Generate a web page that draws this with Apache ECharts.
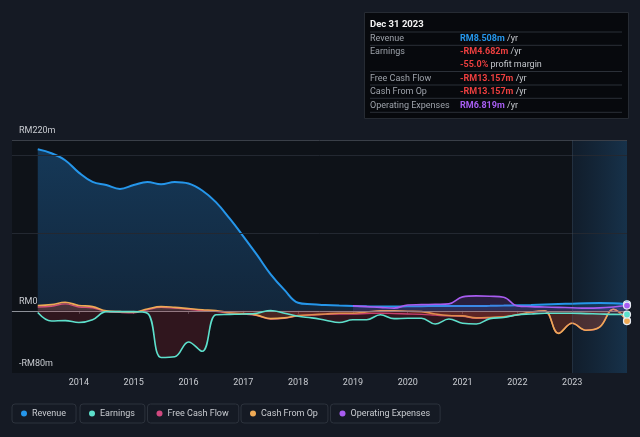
<!DOCTYPE html>
<html><head><meta charset="utf-8">
<script src="https://cdn.jsdelivr.net/npm/echarts@6/dist/echarts.min.js"></script>
<style>html,body{margin:0;padding:0;background:#151a24;}#c{width:640px;height:437px;}</style>
</head><body><div id="c"></div>
<script>
// ---- data (RM millions, quarter-end dates as decimal years) ----
const quarters = [2013.25,2013.5,2013.75,2014,2014.25,2014.5,2014.75,2015,2015.25,2015.5,2015.75,2016,2016.25,2016.5,2016.75,2017,2017.25,2017.5,2017.75,2018,2018.25,2018.5,2018.75,2019,2019.25,2019.5,2019.75,2020,2020.25,2020.5,2020.75,2021,2021.25,2021.5,2021.75,2022,2022.25,2022.5,2022.75,2023,2023.25,2023.5,2023.75,2024];
const revenue = [208,203,194,178,166,162,157,162,166,163,166,164,155,140,119,96,72,47,27,10.5,8.5,7.5,6.8,6.3,5.8,5.5,5.5,5.8,6.0,6.2,6.3,6.3,6.3,6.5,6.8,7.2,7.6,8.2,8.8,9.3,9.8,10.0,9.8,8.508];
const earnings = [-2,-13,-12.5,-15,-11.5,-1,-1,-1,-3,-60,-59,-40,-52,-5,-4.5,-4,-3,0.5,-3,-7,-9,-12,-15,-11.5,-11.5,-5,-10,-9.5,-9.5,-17,-10.5,-16,-17,-10,-8.5,-5,-4,-3,-3,-3,-3.5,-4,-4.5,-4.682];
const freeCashFlow = [5,6,9,5,4,-1,-2,-2.5,1.5,4.5,3.5,2,0.5,-0.5,-3,-4,-6,-10.5,-9.5,-6.5,-5.5,-4.5,-4,-4,-3.5,-3,-3.5,-4,-4.5,-5.5,-6.5,-7,-9.5,-9,-8,-5.5,-2,-0.5,-29,-16,-25,-21,2,-13.157];
const cashFromOp = [7,8,11,7,5.5,0,-1,-1.5,2.5,5.5,4.5,3,1.5,0.5,-2.5,-3.5,-5.5,-10,-9,-6,-5,-4,-3,-3,-1.5,0,0,-0.5,-1,-4,-6,-6.5,-9,-8.5,-7.5,-5,-1.5,0,-29,-16,-25,-21,2,-13.157];
const opExpenses = [null,null,null,null,null,null,null,null,null,null,null,null,null,null,null,null,null,null,null,null,null,null,null,6.4,5.5,4.5,3.5,7.5,8,8.5,9,18,19.3,18.8,17.6,6.4,5.5,5,4.5,4,3.5,3.8,5,6.819];
const yearTicks = [2014,2015,2016,2017,2018,2019,2020,2021,2022,2023];
const yLabelValues = [-80, 0, 220];
const yLabelTexts = ['-RM80m', 'RM0', 'RM220m'];
const gridValues = [100, 200];
const highlightRange = [2023, 2024];
const seriesNames = ['Revenue','Earnings','Free Cash Flow','Cash From Op','Operating Expenses'];
const tipTitle = 'Dec 31 2023';
const tipRows = [
  ['Revenue','RM8.508m',' /yr'],
  ['Earnings','-RM4.682m',' /yr'],
  ['','-55.0%',' profit margin'],
  ['Free Cash Flow','-RM13.157m',' /yr'],
  ['Cash From Op','-RM13.157m',' /yr'],
  ['Operating Expenses','RM6.819m',' /yr']
];

// ---- styling ----
const C = {rev:'#2596ea', earn:'#5de0cc', fcf:'#d0487f', cfo:'#eea955', opx:'#a85cf0'};
const valColors = [C.rev, '#ec3f3f', '#ec3f3f', '#ec3f3f', '#ec3f3f', '#a75ef2'];
const FONT = 'Roboto, "Noto Sans", sans-serif';
const last = quarters.length - 1;
const pairs = vals => quarters.map((q,i)=>[q, vals[i]]);
const endSym = (v,p) => p.dataIndex === last ? 7 : 0;

function lineSeries(name, vals, color, area, z, width){
  return {
    name, type:'line', data: pairs(vals), smooth:0.4, z,
    symbol:'circle', showSymbol:true, symbolSize:endSym,
    itemStyle:{color, borderColor:'#e8ecf2', borderWidth:1.2},
    lineStyle:{color, width:width||1.6},
    areaStyle: area, connectNulls:false, silent:true
  };
}

const chart = echarts.init(document.getElementById('c'), null, {renderer:'canvas'});

const legends = seriesNames.map((n,i)=>({
  data:[n], left:[12,80,147.5,241,330.5][i], top:404, icon:'circle',
  itemWidth:6, itemHeight:6, padding:[5,10,5,9], borderColor:'#2c323c', borderWidth:1, borderRadius:3,
  itemStyle:{borderWidth:0},
  textStyle:{color:'#c9ccd1', fontSize:9, fontFamily:FONT}, selectedMode:false
}));

const graphicEls = [];
graphicEls.push({type:'rect', left:364, top:12, shape:{x:0,y:0,width:264,height:106}, style:{fill:'#07090d', stroke:'#262b33', lineWidth:1}, z:100});
graphicEls.push({type:'text', x:370, y:24.5, style:{text:tipTitle, fill:'#f2f2f2', font:'bold 9.5px '+FONT, textVerticalAlign:'middle'}, z:101});
const rowY = [38.3, 52, 64.5, 78.3, 91.7, 105.5];
const sepY = [32, 45.3, 71.5, 85, 98.3, 112.3];
sepY.forEach(y=>graphicEls.push({type:'line', shape:{x1:370,y1:y,x2:622,y2:y}, style:{stroke:'#2b3038', lineWidth:1}, z:101}));
tipRows.forEach((r,i)=>{
  if (r[0]) graphicEls.push({type:'text', x:370, y:rowY[i], style:{text:r[0], fill:'#9da2aa', font:'9px '+FONT, textVerticalAlign:'middle'}, z:101});
  graphicEls.push({type:'text', x:460, y:rowY[i], style:{text:'{v|'+r[1]+'}{u|'+r[2]+'}', font:'9px '+FONT, textVerticalAlign:'middle',
    rich:{v:{fill:valColors[i], font:'bold 9px '+FONT}, u:{fill:'#c4c7cc', font:'9px '+FONT}}}, z:101});
});

const revArea = {color:{type:'linear',x:0,y:0,x2:0,y2:1,colorStops:[{offset:0,color:'rgba(35,130,210,0.34)'},{offset:1,color:'rgba(35,120,200,0.2)'}]}, opacity:1};

const option = {
  animation:false,
  backgroundColor:'#151a24',
  grid:{left:12, right:13, top:140, bottom:64, show:true, backgroundColor:'#0e1218', borderWidth:0},
  legend: legends,
  graphic: graphicEls,
  xAxis:{type:'value', min:2012.78, max:2024,
    axisLine:{show:true, lineStyle:{color:'#3a3f48'}},
    axisTick:{show:true, customValues:yearTicks, length:3, lineStyle:{color:'#4a4f58'}},
    axisLabel:{customValues:yearTicks, formatter:v=>String(Math.round(v)), color:'#c9ccd1', fontSize:9, fontFamily:FONT, margin:5},
    splitLine:{show:false}},
  yAxis:{type:'value', min:-80, max:220,
    axisLine:{show:false}, axisTick:{show:false}, splitLine:{show:false},
    axisLabel:{customValues:yLabelValues, inside:true, margin:7, showMinLabel:true, showMaxLabel:true,
      formatter:v=>{const k=yLabelValues.indexOf(Math.round(v)); return k>=0?yLabelTexts[k]:'';},
      color:'#c9ccd1', fontSize:9, fontFamily:FONT, verticalAlign:'bottom', padding:[0,0,5,0]}},
  series:[
    Object.assign(lineSeries('Revenue', revenue, C.rev, revArea, 2, 2), {
      markArea:{silent:true, itemStyle:{color:{type:'linear',x:0,y:0,x2:1,y2:0,colorStops:[{offset:0,color:'rgba(22,46,72,0.4)'},{offset:1,color:'rgba(30,76,116,0.55)'}]}},
        data:[[{xAxis:highlightRange[0]},{xAxis:highlightRange[1]}]]},
      markLine:{silent:true, symbol:'none', label:{show:false},
        data:[
          {yAxis:220, lineStyle:{color:'#3a3f48', width:1, type:'solid'}},
          ...gridValues.map(v=>({yAxis:v, lineStyle:{color:'#232831', width:1, type:'solid'}})),
          {yAxis:0, lineStyle:{color:'#8d9199', width:1, type:'solid'}},
          {xAxis:highlightRange[0], lineStyle:{color:'rgba(70,90,110,0.35)', width:1, type:'solid'}}
        ]}
    }),
    lineSeries('Free Cash Flow', freeCashFlow, C.fcf, {color:'rgba(190,45,55,0.32)'}, 3, 1.4),
    lineSeries('Cash From Op', cashFromOp, C.cfo, {color:'rgba(230,150,70,0.16)'}, 4, 1.6),
    lineSeries('Earnings', earnings, C.earn, {color:'rgba(170,40,55,0.32)'}, 5, 1.6),
    lineSeries('Operating Expenses', opExpenses, C.opx, {color:'rgba(150,80,220,0.28)'}, 6, 1.6)
  ]
};
chart.setOption(option);
</script></body></html>
